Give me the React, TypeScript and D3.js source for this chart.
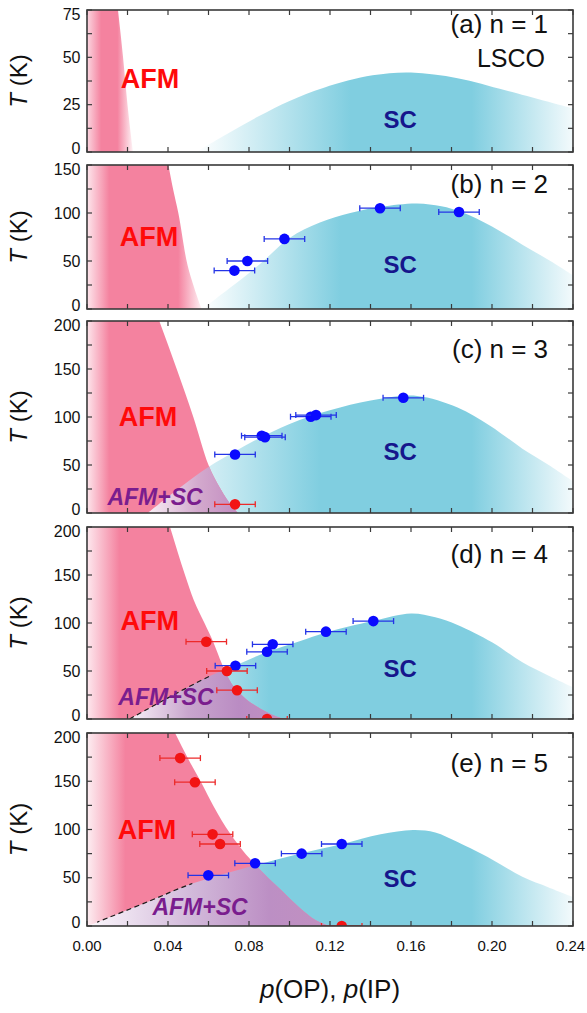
import React from "react";
import * as d3 from "d3";

type Pt = [number, number];
type DataPt = [number, number, number]; // p, T, error in p

// ---------- shared axis data ----------
const P_MAJOR = [0, 0.04, 0.08, 0.12, 0.16, 0.2, 0.24];
const P_LABELS = ["0.00", "0.04", "0.08", "0.12", "0.16", "0.20", "0.24"];
const P_ALL_TICKS = [0, 0.02, 0.04, 0.06, 0.08, 0.1, 0.12, 0.14, 0.16, 0.18, 0.2, 0.22, 0.24];

// ---------- (a) n = 1, LSCO ----------
const T_MAX_A = 75;
const T_LABELS_A = [0, 25, 50, 75];
const T_TICKS_A = [0, 12.5, 25, 37.5, 50, 62.5, 75];
const afmA: Pt[] = [[0.0153, 75], [0.0178, 50], [0.02, 25], [0.0227, 0]];
const domeA: Pt[] = [[0.054, 0], [0.07, 10], [0.085, 19], [0.1, 27], [0.117, 34], [0.141, 40.5], [0.16, 42], [0.183, 39], [0.207, 32.5], [0.24, 23]];
const blueA: DataPt[] = [];
const redA: DataPt[] = [];

// ---------- (b) n = 2 ----------
const T_MAX_B = 150;
const T_LABELS_B = [0, 50, 100, 150];
const T_TICKS_B = [0, 25, 50, 75, 100, 125, 150];
const afmB: Pt[] = [[0.0402, 150], [0.0426, 124], [0.0451, 100], [0.0492, 50], [0.0525, 25], [0.0566, 0]];
const domeB: Pt[] = [[0.057, 0], [0.07, 21], [0.085, 46], [0.1, 74], [0.115, 90], [0.13, 100], [0.145, 106.5], [0.163, 110], [0.175, 107], [0.185, 101], [0.2, 86], [0.215, 67], [0.228, 51], [0.24, 35]];
const blueB: DataPt[] = [[0.0728, 40], [0.0792, 50], [0.0975, 73], [0.1447, 105], [0.1837, 101]].map(d => [d[0], d[1], 0.01] as DataPt);
const redB: DataPt[] = [];

// ---------- (c) n = 3 ----------
const T_MAX_C = 200;
const T_LABELS_C = [0, 50, 100, 150, 200];
const T_TICKS_C = [0, 25, 50, 75, 100, 125, 150, 175, 200];
const afmC: Pt[] = [[0.0357, 200], [0.0443, 150], [0.0525, 100], [0.06, 50], [0.0657, 26], [0.072, 6], [0.0745, 0]];
const domeC: Pt[] = [[0.03, 0], [0.045, 25], [0.06, 48], [0.073, 64], [0.087, 80], [0.105, 97], [0.125, 110], [0.145, 119], [0.163, 122], [0.183, 110], [0.199, 91], [0.215, 67], [0.228, 50], [0.24, 33]];
const blueC: DataPt[] = [[0.0731, 61], [0.0863, 80.5], [0.0879, 79], [0.1105, 100.3], [0.1131, 102], [0.1562, 120]].map(d => [d[0], d[1], 0.01] as DataPt);
const redC: DataPt[] = [[0.0731, 9]].map(d => [d[0], d[1], 0.01] as DataPt);

// ---------- (d) n = 4 ----------
const T_MAX_D = 200;
const T_LABELS_D = [0, 50, 100, 150, 200];
const T_TICKS_D = [0, 25, 50, 75, 100, 125, 150, 175, 200];
const afmD: Pt[] = [[0.041, 200], [0.0484, 150], [0.0527, 124], [0.058, 100], [0.0626, 79], [0.0665, 58], [0.0705, 40], [0.0774, 23], [0.0823, 15], [0.0889, 7], [0.097, 0]];
const domeD: Pt[] = [[0.021, 0], [0.04, 22], [0.061, 45], [0.0735, 56], [0.088, 69], [0.105, 81], [0.118, 90], [0.141, 102], [0.16, 110], [0.172, 106], [0.183, 98], [0.2, 80], [0.215, 59], [0.228, 45], [0.24, 33]];
const blueD: DataPt[] = [[0.0733, 55.5], [0.0889, 70], [0.0917, 77.8], [0.118, 91], [0.1414, 102]].map(d => [d[0], d[1], 0.01] as DataPt);
const redD: DataPt[] = [[0.0589, 80.5], [0.0691, 50], [0.0741, 30], [0.0889, 0]].map(d => [d[0], d[1], 0.01] as DataPt);

// ---------- (e) n = 5 ----------
const T_MAX_E = 200;
const T_LABELS_E = [0, 50, 100, 150, 200];
const T_TICKS_E = [0, 25, 50, 75, 100, 125, 150, 175, 200];
const afmE: Pt[] = [[0.0435, 200], [0.05, 173], [0.0566, 148], [0.0623, 125], [0.0706, 96], [0.077, 78], [0.0838, 62], [0.096, 37], [0.105, 19], [0.113, 6], [0.12, 0]];
const domeE: Pt[] = [[0.0, 0], [0.005, 4], [0.031, 26], [0.052, 44], [0.083, 63], [0.105, 75], [0.126, 85], [0.145, 95], [0.161, 99.5], [0.172, 97], [0.183, 87], [0.2, 69], [0.215, 51], [0.228, 40], [0.24, 30]];
const blueE: DataPt[] = [[0.0599, 52.5], [0.083, 65], [0.106, 75], [0.1258, 85]].map(d => [d[0], d[1], 0.01] as DataPt);
const redE: DataPt[] = [[0.046, 174], [0.0533, 149], [0.062, 95], [0.0657, 85], [0.1258, 0]].map(d => [d[0], d[1], 0.01] as DataPt);

// ---------- styling ----------
const PINK = "#f4829f";
const CYAN = "#80cee0";
const FONT = "'Liberation Sans', Arial, Helvetica, sans-serif";
const FRAME = "#3a3a3a";
const DOT_BLUE = "#0a0aff";
const BAR_BLUE = "#2434e6";
const DOT_RED = "#f21414";
const BAR_RED = "#ec2a2a";

const W = 587;
const H = 1013;
const LEFT = 87;
const RIGHT = 573;

type Stop = [number, string];
interface PanelCfg {
  key: string;
  top: number;
  bottom: number;
  tMax: number;
  tLabels: number[];
  tTicks: number[];
  afm: Pt[];
  dome: Pt[];
  blue: DataPt[];
  red: DataPt[];
  pinkStops: Stop[];
  cyanStops: Stop[];
  mixStops: Stop[];
  dash?: [number, number];
  title: string;
  titlePos: Pt;
  sub?: string;
  subPos?: Pt;
  afmPos: Pt;
  scPos: Pt;
  mixPos?: Pt;
}

const cyanStops = (start: number, full: number): Stop[] => [
  [start, "#ffffff"],
  [full, CYAN],
  [0.19, CYAN],
  [0.24, "#f3fafc"],
];

const PANELS: PanelCfg[] = [
  {
    key: "a", top: 10, bottom: 152, tMax: T_MAX_A, tLabels: T_LABELS_A, tTicks: T_TICKS_A,
    afm: afmA, dome: domeA, blue: blueA, red: redA,
    pinkStops: [[0, "#fbd6e0"], [0.007, PINK], [0.015, PINK], [0.0235, "#ffffff"]],
    cyanStops: cyanStops(0.054, 0.13),
    mixStops: [[0, "#ffffff"], [0.24, "#ffffff"]],
    title: "(a) n = 1", titlePos: [0.2277, 62.9], sub: "LSCO", subPos: [0.2262, 44.9],
    afmPos: [0.0311, 33.8], scPos: [0.1546, 12.7],
  },
  {
    key: "b", top: 165, bottom: 309, tMax: T_MAX_B, tLabels: T_LABELS_B, tTicks: T_TICKS_B,
    afm: afmB, dome: domeB, blue: blueB, red: redB,
    pinkStops: [[0, "#fde6ec"], [0.011, PINK], [0.045, PINK], [0.058, "#ffffff"]],
    cyanStops: cyanStops(0.057, 0.125),
    mixStops: [[0, "#ffffff"], [0.24, "#ffffff"]],
    title: "(b) n = 2", titlePos: [0.2277, 120.8],
    afmPos: [0.0306, 65.6], scPos: [0.1546, 37.5],
  },
  {
    key: "c", top: 321, bottom: 513, tMax: T_MAX_C, tLabels: T_LABELS_C, tTicks: T_TICKS_C,
    afm: afmC, dome: domeC, blue: blueC, red: redC,
    pinkStops: [[0, "#fde6ec"], [0.011, PINK], [0.24, PINK]],
    cyanStops: cyanStops(0.03, 0.115),
    mixStops: [[0.03, "#f8eef5"], [0.055, "#d3a9cd"], [0.075, "#c28cc0"]],
    title: "(c) n = 3", titlePos: [0.2277, 161.5],
    afmPos: [0.0301, 90.6], scPos: [0.1546, 55], mixPos: [0.0336, 8.3],
  },
  {
    key: "d", top: 527, bottom: 719, tMax: T_MAX_D, tLabels: T_LABELS_D, tTicks: T_TICKS_D,
    afm: afmD, dome: domeD, blue: blueD, red: redD,
    pinkStops: [[0, "#fde8ee"], [0.016, PINK], [0.24, PINK]],
    cyanStops: cyanStops(0.021, 0.09),
    mixStops: [[0.021, "#f8f2f8"], [0.05, "#c9a6ce"], [0.075, "#ba8cc3"], [0.097, "#c290c0"]],
    dash: [0.021, 0.061],
    title: "(d) n = 4", titlePos: [0.2277, 162.5],
    afmPos: [0.031, 92.7], scPos: [0.1546, 43.75], mixPos: [0.039, 14.6],
  },
  {
    key: "e", top: 733, bottom: 926, tMax: T_MAX_E, tLabels: T_LABELS_E, tTicks: T_TICKS_E,
    afm: afmE, dome: domeE, blue: blueE, red: redE,
    pinkStops: [[0, "#fdeef2"], [0.019, PINK], [0.24, PINK]],
    cyanStops: cyanStops(0.0, 0.09),
    mixStops: [[0.0, "#fcf8fc"], [0.05, "#d3bbdb"], [0.09, "#bc8fc4"], [0.12, "#c290c0"]],
    dash: [0.005, 0.052],
    title: "(e) n = 5", titlePos: [0.2277, 159.6],
    afmPos: [0.0296, 90.2], scPos: [0.1546, 40.4], mixPos: [0.0558, 11.4],
  },
];

function ErrorDots({ data, x, y, dot, bar }: { data: DataPt[]; x: d3.ScaleLinear<number, number>; y: d3.ScaleLinear<number, number>; dot: string; bar: string }) {
  return (
    <g>
      {data.map((d, i) => {
        const x0 = x(d[0] - d[2]);
        const x1 = x(d[0] + d[2]);
        const cy = y(d[1]);
        return (
          <g key={i}>
            <line x1={x0} x2={x1} y1={cy} y2={cy} stroke={bar} strokeWidth={1.3} />
            <line x1={x0} x2={x0} y1={cy - 3} y2={cy + 3} stroke={bar} strokeWidth={1.3} />
            <line x1={x1} x2={x1} y1={cy - 3} y2={cy + 3} stroke={bar} strokeWidth={1.3} />
            <circle cx={x(d[0])} cy={cy} r={5.3} fill={dot} />
          </g>
        );
      })}
    </g>
  );
}

function Panel({ cfg, last }: { cfg: PanelCfg; last: boolean }) {
  const x = d3.scaleLinear().domain([0, 0.24]).range([LEFT, RIGHT]);
  const y = d3.scaleLinear().domain([0, cfg.tMax]).range([cfg.bottom, cfg.top]);
  const k = cfg.key;
  const line = d3.line<Pt>().x(d => x(d[0])).y(d => y(d[1])).curve(d3.curveMonotoneX);
  const smooth = d3.line<Pt>().x(d => x(d[0])).y(d => y(d[1])).curve(d3.curveCatmullRom.alpha(0.5));
  const area = d3.area<Pt>().x(d => x(d[0])).y0(y(0)).y1(d => y(d[1])).curve(d3.curveCatmullRom.alpha(0.5));
  const afmEdge = line(cfg.afm) as string;
  const afmPath = `M${x(0)},${y(0)}L${x(0)},${y(cfg.afm[0][1])}${afmEdge.replace(/^M/, "L")}Z`;
  const domePath = area(cfg.dome) as string;
  const domeEdge = smooth(cfg.dome) as string;
  const off = (p: number) => Math.max(0, Math.min(1, p / 0.24));
  const grad = (id: string, stops: Stop[]) => (
    <linearGradient id={id} gradientUnits="userSpaceOnUse" x1={x(0)} x2={x(0.24)} y1={0} y2={0}>
      {stops.map((s, i) => (
        <stop key={i} offset={off(s[0])} stopColor={s[1]} />
      ))}
    </linearGradient>
  );
  const TL = 5;
  return (
    <g>
      <defs>
        <clipPath id={`plot-${k}`}>
          <rect x={LEFT} y={cfg.top} width={RIGHT - LEFT} height={cfg.bottom - cfg.top} />
        </clipPath>
        <clipPath id={`afm-${k}`}>
          <path d={afmPath} />
        </clipPath>
        {cfg.dash && (
          <clipPath id={`dash-${k}`}>
            <rect x={x(cfg.dash[0])} y={cfg.top} width={x(cfg.dash[1]) - x(cfg.dash[0])} height={cfg.bottom - cfg.top} />
          </clipPath>
        )}
        {grad(`gp-${k}`, cfg.pinkStops)}
        {grad(`gc-${k}`, cfg.cyanStops)}
        {grad(`gm-${k}`, cfg.mixStops)}
      </defs>
      <g clipPath={`url(#plot-${k})`}>
        <path d={domePath} fill={`url(#gc-${k})`} />
        <path d={afmPath} fill={`url(#gp-${k})`} />
        <g clipPath={`url(#afm-${k})`}>
          <path d={domePath} fill={`url(#gm-${k})`} />
        </g>
        {cfg.dash && (
          <g clipPath={`url(#dash-${k})`}>
            <path d={domeEdge} fill="none" stroke="#1a1a1a" strokeWidth={1.2} strokeDasharray="5,3.5" />
          </g>
        )}
        <text x={x(cfg.afmPos[0])} y={y(cfg.afmPos[1])} textAnchor="middle" fontSize={27} fontWeight="bold" fill="#ff0a0a" fontFamily={FONT}>AFM</text>
        <text x={x(cfg.scPos[0])} y={y(cfg.scPos[1])} textAnchor="middle" fontSize={24} fontWeight="bold" fill="#16168c" fontFamily={FONT}>SC</text>
        {cfg.mixPos && (
          <text x={x(cfg.mixPos[0])} y={y(cfg.mixPos[1])} textAnchor="middle" fontSize={23} fontWeight="bold" fontStyle="italic" fill="#7a1d8e" fontFamily={FONT}>AFM+SC</text>
        )}
        <ErrorDots data={cfg.blue} x={x} y={y} dot={DOT_BLUE} bar={BAR_BLUE} />
        <ErrorDots data={cfg.red} x={x} y={y} dot={DOT_RED} bar={BAR_RED} />
      </g>
      {/* ticks */}
      {P_ALL_TICKS.map((p, i) => (
        <g key={`xt${i}`}>
          <line x1={x(p)} x2={x(p)} y1={cfg.bottom} y2={cfg.bottom - TL} stroke={FRAME} strokeWidth={1.2} />
          <line x1={x(p)} x2={x(p)} y1={cfg.top} y2={cfg.top + TL} stroke={FRAME} strokeWidth={1.2} />
        </g>
      ))}
      {cfg.tTicks.map((t, i) => (
        <g key={`yt${i}`}>
          <line x1={LEFT} x2={LEFT + TL} y1={y(t)} y2={y(t)} stroke={FRAME} strokeWidth={1.2} />
          <line x1={RIGHT} x2={RIGHT - TL} y1={y(t)} y2={y(t)} stroke={FRAME} strokeWidth={1.2} />
        </g>
      ))}
      <rect x={LEFT} y={cfg.top} width={RIGHT - LEFT} height={cfg.bottom - cfg.top} fill="none" stroke={FRAME} strokeWidth={1.6} />
      {cfg.tLabels.map((t, i) => {
        const nudge = t === 0 ? -4 : t === cfg.tMax ? 4 : 0;
        return (
          <text key={`yl${i}`} x={80.5} y={y(t) + nudge} textAnchor="end" dominantBaseline="central" fontSize={16} fill="#111" fontFamily={FONT}>
            {t}
          </text>
        );
      })}
      <text x={x(cfg.titlePos[0])} y={y(cfg.titlePos[1])} textAnchor="end" fontSize={26} fill="#111" fontFamily={FONT}>{cfg.title}</text>
      {cfg.sub && cfg.subPos && (
        <text x={x(cfg.subPos[0])} y={y(cfg.subPos[1])} textAnchor="end" fontSize={25} fill="#111" fontFamily={FONT}>{cfg.sub}</text>
      )}
      <text transform={`translate(27,${(cfg.top + cfg.bottom) / 2}) rotate(-90)`} textAnchor="middle" fontSize={24} fill="#111" fontFamily={FONT}>
        <tspan fontStyle="italic">T</tspan> (K)
      </text>
      {last &&
        P_MAJOR.map((p, i) => (
          <text
            key={`xl${i}`}
            x={i === P_MAJOR.length - 1 ? x(p) - 2.5 : x(p)}
            y={951}
            textAnchor="middle"
            fontSize={15}
            fill="#111"
            fontFamily={FONT}
          >
            {P_LABELS[i]}
          </text>
        ))}
    </g>
  );
}

export default function App() {
  return (
    <svg width={W} height={H} viewBox={`0 0 ${W} ${H}`} style={{ position: "absolute", left: 0, top: 0, background: "#fff" }}>
      <rect x={0} y={0} width={W} height={H} fill="#fff" />
      {PANELS.map((p, i) => (
        <Panel key={p.key} cfg={p} last={i === PANELS.length - 1} />
      ))}
      <text x={(LEFT + RIGHT) / 2} y={998} textAnchor="middle" fontSize={26} fill="#111" fontFamily={FONT}>
        <tspan fontStyle="italic">p</tspan>(OP), <tspan fontStyle="italic">p</tspan>(IP)
      </text>
    </svg>
  );
}
